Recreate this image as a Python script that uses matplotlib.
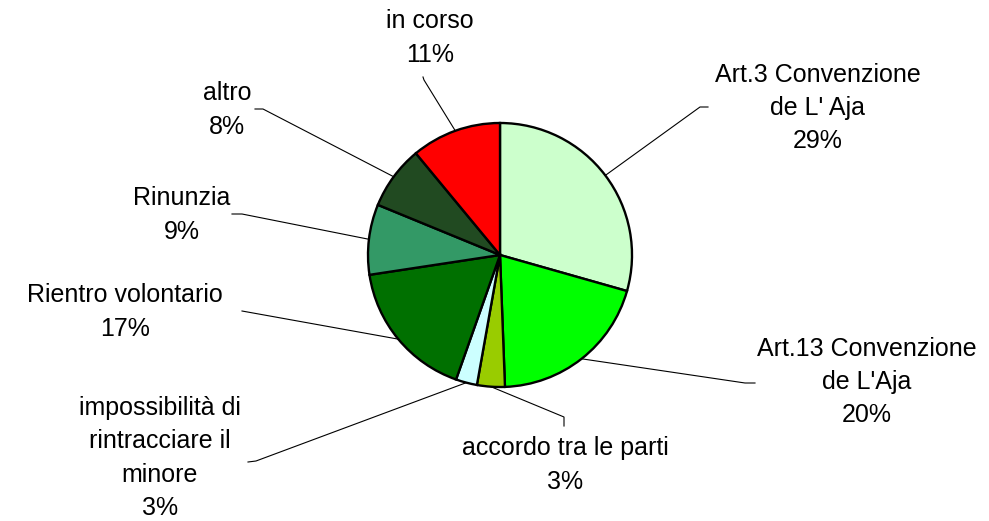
import numpy as np
import matplotlib
matplotlib.use("Agg")
import matplotlib.pyplot as plt

labels = ["Art.3 Convenzione\nde L' Aja", "Art.13 Convenzione\nde L'Aja", "accordo tra le parti",
          "impossibilità di\nrintracciare il\nminore", "Rientro volontario", "Rinunzia", "altro", "in corso"]
values = [29.4, 20.0, 3.4, 2.6, 17.2, 8.6, 7.8, 11.0]
colors = ["#CCFFCC", "#00FF00", "#99CC00", "#CCFFFF", "#007000", "#339966", "#214A21", "#FF0000"]

W, H = 989, 521
fig = plt.figure(figsize=(W / 100, H / 100), dpi=100)
ax = fig.add_axes([0, 0, 1, 1])

cx, cy, R = 500, H - 255, 132
wedges, _ = ax.pie(values, colors=colors, startangle=90, counterclock=False,
                   center=(cx, cy), radius=R,
                   wedgeprops=dict(edgecolor="black", linewidth=1.7))
ax.set_xlim(0, W)
ax.set_ylim(0, H)
ax.set_aspect("equal")
ax.axis("off")

# label centres (pixel coords, y from top) and leader-line end points
label_pos = [(818, 108), (867, 382), (565, 465), (160, 458), (125, 312), (182, 215), (227, 110), (430, 38)]
line_end = [(700, 107), (745, 383), (564, 417), (256, 461), (242, 311), (242, 214), (263, 109), (424, 80)]
elbow = [(708, 107), (755, 383), (564, 426), (248, 462), None, (232, 214), (255, 109), (423, 77)]

total = sum(values)
cum = 0
for lab, v, (lx, ly), (ex, ey), el in zip(labels, values, label_pos, line_end, elbow):
    mid = cum + v / 2
    cum += v
    ang = np.deg2rad(90 - 360 * mid / total)
    sx, sy = cx + R * np.cos(ang), cy + R * np.sin(ang)
    xs, ys = [sx, ex], [sy, H - ey]
    if el is not None:
        xs.append(el[0]); ys.append(H - el[1])
    ax.plot(xs, ys, color="black", lw=0.8)
    ax.text(lx, H - ly, f"{lab}\n{round(v)}%", ha="center", va="center",
            fontsize=18, family="Liberation Sans", linespacing=1.5)

fig.savefig("out.png", dpi=100)
